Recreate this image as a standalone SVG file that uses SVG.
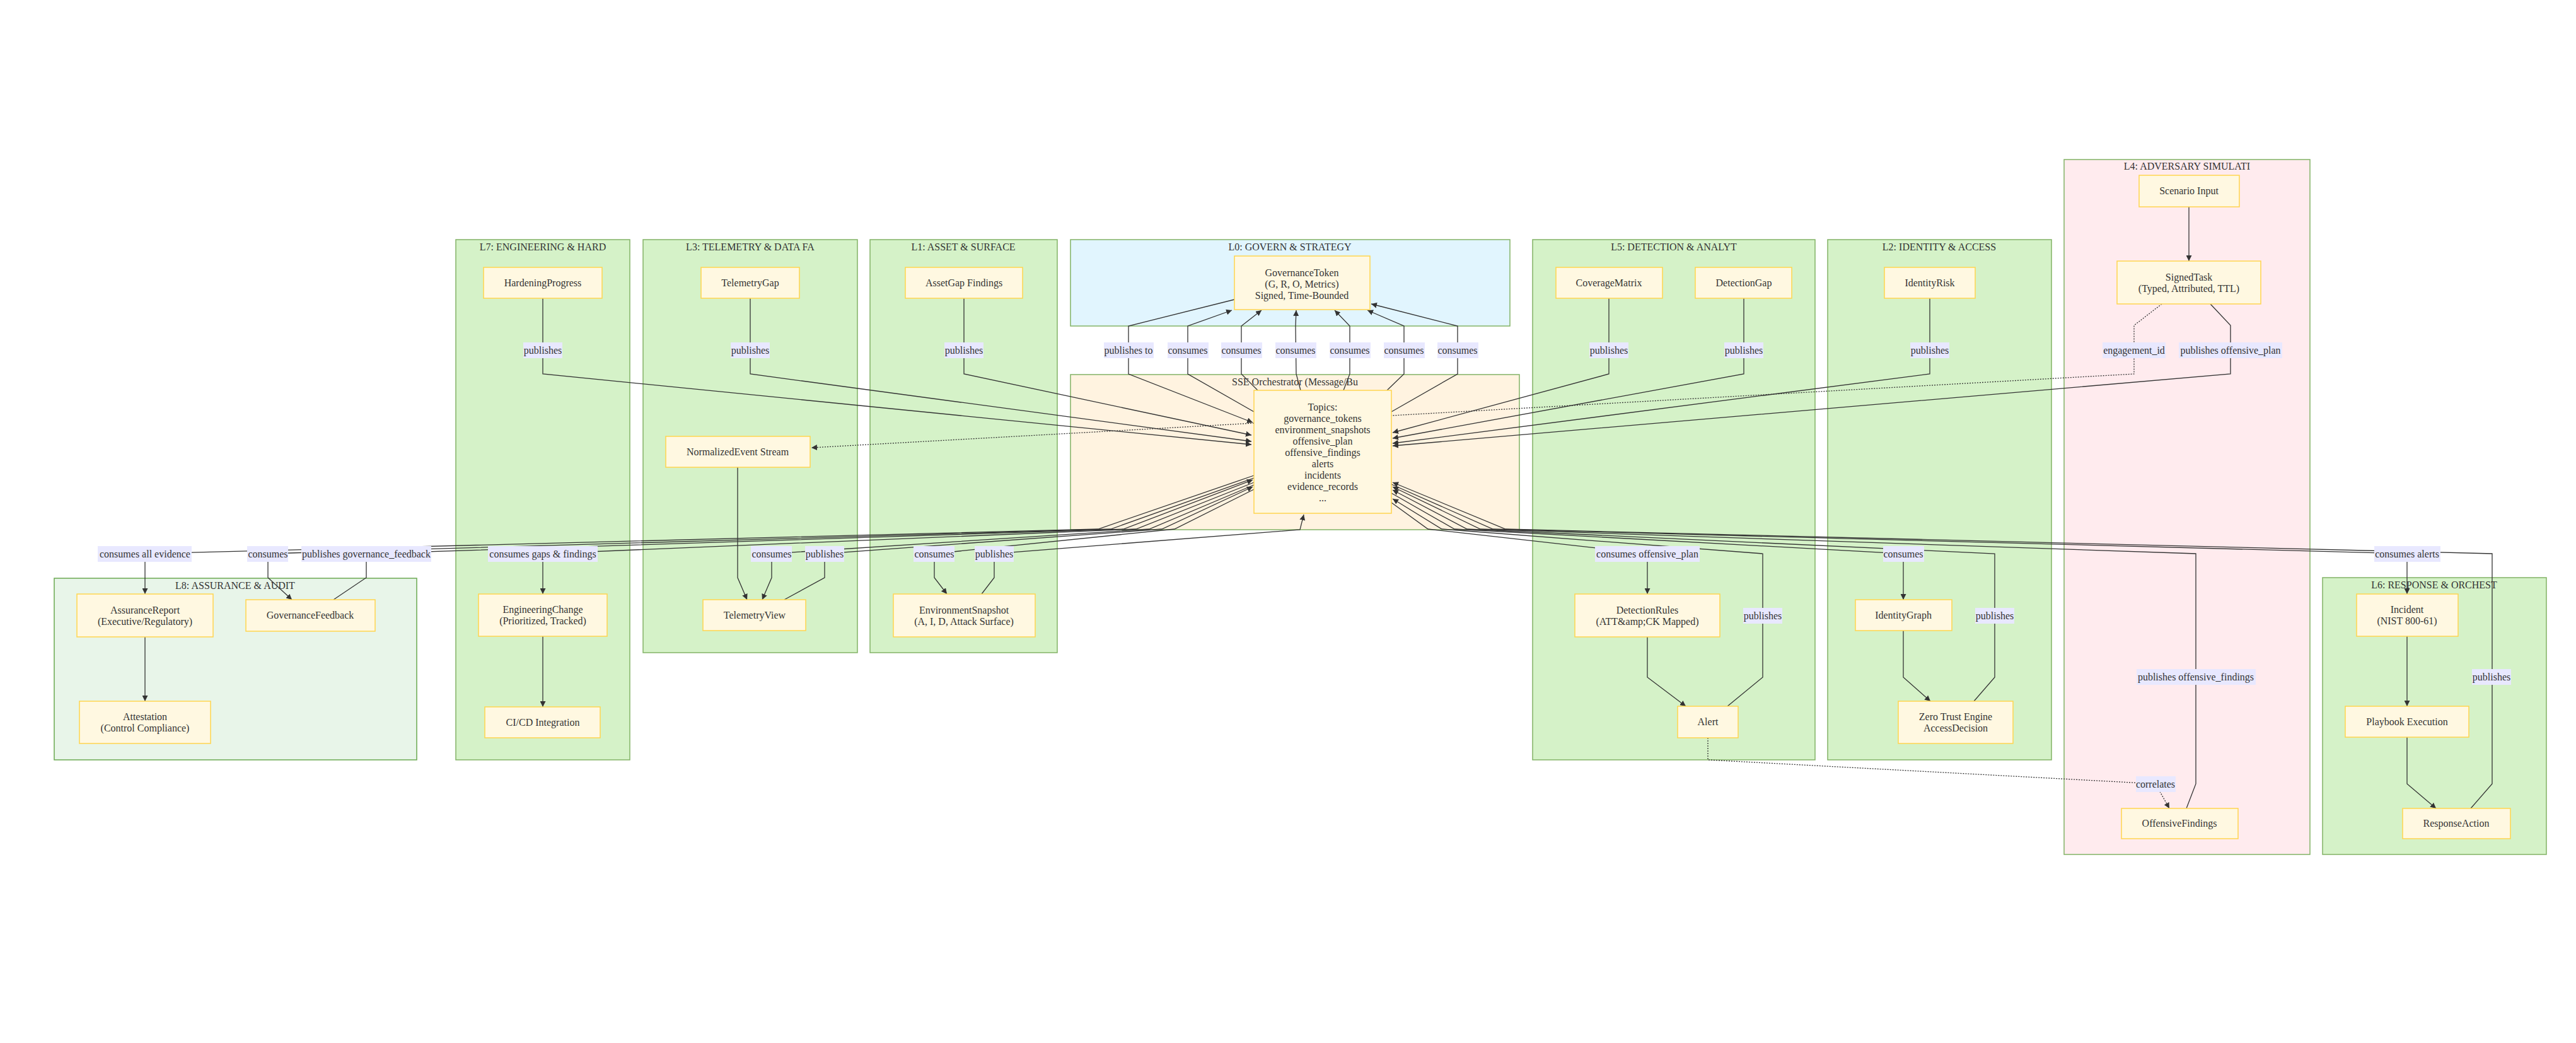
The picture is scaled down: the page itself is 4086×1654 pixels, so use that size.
<svg xmlns="http://www.w3.org/2000/svg" width="4086" height="1654" viewBox="0 0 4086 1654">
<style>
text{font-family:"Liberation Serif","Times New Roman",serif;font-size:16px;fill:#333;text-anchor:middle}
.cg{fill:#d5f2c8;stroke:#82b366;stroke-width:1.5}
.c8{fill:#e8f5e9;stroke:#6aa84f;stroke-width:1.5}
.c0{fill:#e1f5fe;stroke:#82b366;stroke-width:1.5}
.co{fill:#fff3e0;stroke:#82b366;stroke-width:1.5}
.c4{fill:#ffebee;stroke:#82b366;stroke-width:1.5}
.n rect{fill:#fff8e1;stroke:#ffd54f;stroke-width:1.5}
.e{fill:none;stroke:#333;stroke-width:1.3}
.d{stroke-dasharray:2 2}
.lb rect{fill:#e8e8ff}
</style>
<defs>
<marker id="ah" viewBox="0 0 10 10" refX="10" refY="5" markerWidth="9" markerHeight="9" markerUnits="userSpaceOnUse" orient="auto">
<path d="M0,0 L10,5 L0,10 z" fill="#333"/>
</marker>
</defs>
<g id="clusters">
<g id="L8"><rect class="c8" x="86" y="917" width="575" height="288"/><text x="373" y="934">L8: ASSURANCE &amp; AUDIT</text></g>
<g id="L7"><rect class="cg" x="723" y="380" width="276" height="825"/><text x="861" y="397">L7: ENGINEERING &amp; HARD</text></g>
<g id="L3"><rect class="cg" x="1020" y="380" width="340" height="655"/><text x="1190" y="397">L3: TELEMETRY &amp; DATA FA</text></g>
<g id="L1"><rect class="cg" x="1380" y="380" width="297" height="655"/><text x="1528" y="397">L1: ASSET &amp; SURFACE</text></g>
<g id="L0"><rect class="c0" x="1698" y="380" width="697" height="137"/><text x="2046" y="397">L0: GOVERN &amp; STRATEGY</text></g>
<g id="ORCH"><rect class="co" x="1698" y="594" width="712" height="246"/><text x="2054" y="611">SSE Orchestrator (Message/Bu</text></g>
<g id="L5"><rect class="cg" x="2431" y="380" width="448" height="825"/><text x="2655" y="397">L5: DETECTION &amp; ANALYT</text></g>
<g id="L2"><rect class="cg" x="2899" y="380" width="355" height="825"/><text x="3076" y="397">L2: IDENTITY &amp; ACCESS</text></g>
<g id="L4"><rect class="c4" x="3274" y="253" width="390" height="1102"/><text x="3469" y="269">L4: ADVERSARY SIMULATI</text></g>
<g id="L6"><rect class="cg" x="3684" y="916" width="355" height="439"/><text x="3861" y="933">L6: RESPONSE &amp; ORCHEST</text></g>
</g>
<g id="connectors">
<path class="e" d="M861,473 L861,593 L1985,705" marker-end="url(#ah)"/>
<path class="e" d="M1190,473 L1190,593 L1985,700" marker-end="url(#ah)"/>
<path class="e" d="M1529,473 L1529,593 L1985,690" marker-end="url(#ah)"/>
<path class="e d" d="M1989,671 L1287,710" marker-end="url(#ah)"/>
<path class="e" d="M1958,475 L1790,517 L1790,593 L1987,670" marker-end="url(#ah)"/>
<path class="e" d="M1989,653 L1884,593 L1884,517 L1954,492" marker-end="url(#ah)"/>
<path class="e" d="M1995,619 L1969,593 L1969,517 L2001,492" marker-end="url(#ah)"/>
<path class="e" d="M2063,619 L2056,593 L2055,517 L2056,492" marker-end="url(#ah)"/>
<path class="e" d="M2131,619 L2141,593 L2141,517 L2117,492" marker-end="url(#ah)"/>
<path class="e" d="M2200,619 L2227,593 L2227,517 L2169,492" marker-end="url(#ah)"/>
<path class="e" d="M2207,653 L2312,593 L2312,517 L2175,482" marker-end="url(#ah)"/>
<path class="e" d="M2552,473 L2552,593 L2209,686" marker-end="url(#ah)"/>
<path class="e" d="M2766,473 L2766,593 L2209,695" marker-end="url(#ah)"/>
<path class="e" d="M3061,473 L3061,593 L2209,703" marker-end="url(#ah)"/>
<path class="e" d="M3506,482 L3538,516 L3538,593 L2209,707" marker-end="url(#ah)"/>
<path class="e d" d="M3429,482 L3385,516 L3385,593 L2207,659"/>
<path class="e" d="M3472,328 L3472,414" marker-end="url(#ah)"/>
<path class="e" d="M1989,754 L1742,839 L230,878 L230,942" marker-end="url(#ah)"/>
<path class="e" d="M1989,758 L1762,839 L425,878 L425,916 L463,951" marker-end="url(#ah)"/>
<path class="e" d="M529,951 L581,916 L581,878 L1782,839 L1987,761" marker-end="url(#ah)"/>
<path class="e" d="M1989,765 L1802,839 L861,878 L861,942" marker-end="url(#ah)"/>
<path class="e" d="M1989,769 L1823,839 L1224,878 L1224,916 L1209,951" marker-end="url(#ah)"/>
<path class="e" d="M1244,951 L1308,916 L1308,878 L1843,839 L1987,772" marker-end="url(#ah)"/>
<path class="e" d="M1989,776 L1863,839 L1482,878 L1482,916 L1502,942" marker-end="url(#ah)"/>
<path class="e" d="M1557,942 L1577,916 L1577,878 L2062,840 L2068,816" marker-end="url(#ah)"/>
<path class="e" d="M1170,741 L1170,916 L1185,951" marker-end="url(#ah)"/>
<path class="e" d="M230,1010 L230,1112" marker-end="url(#ah)"/>
<path class="e" d="M861,1009 L861,1121" marker-end="url(#ah)"/>
<path class="e" d="M2207,797 L2265,839 L2613,878 L2613,942" marker-end="url(#ah)"/>
<path class="e" d="M2740,1120 L2796,1074 L2796,878 L2287,839 L2209,791" marker-end="url(#ah)"/>
<path class="e" d="M2207,782 L2307,839 L3019,878 L3019,951" marker-end="url(#ah)"/>
<path class="e" d="M3131,1112 L3164,1074 L3164,878 L2327,839 L2209,777" marker-end="url(#ah)"/>
<path class="e" d="M3468,1282 L3483,1243 L3483,878 L2348,839 L2209,772" marker-end="url(#ah)"/>
<path class="e" d="M2207,768 L2368,839 L3818,878 L3818,942" marker-end="url(#ah)"/>
<path class="e" d="M3919,1282 L3953,1243 L3953,878 L2388,839 L2209,765" marker-end="url(#ah)"/>
<path class="e" d="M2613,1010 L2613,1074 L2674,1120" marker-end="url(#ah)"/>
<path class="e" d="M3019,1000 L3019,1074 L3062,1112" marker-end="url(#ah)"/>
<path class="e d" d="M2709,1170 L2709,1205 L3419,1243 L3441,1282" marker-end="url(#ah)"/>
<path class="e" d="M3818,1009 L3818,1120" marker-end="url(#ah)"/>
<path class="e" d="M3818,1169 L3818,1243 L3864,1282" marker-end="url(#ah)"/>
</g>
<g id="edge-labels" class="lb">
<rect x="830" y="543" width="62" height="25"/><text x="861" y="561">publishes</text>
<rect x="1159" y="543" width="62" height="25"/><text x="1190" y="561">publishes</text>
<rect x="1498" y="543" width="62" height="25"/><text x="1529" y="561">publishes</text>
<rect x="1751" y="543" width="79" height="25"/><text x="1790" y="561">publishes to</text>
<rect x="1852" y="543" width="65" height="25"/><text x="1884" y="561">consumes</text>
<rect x="1937" y="543" width="65" height="25"/><text x="1969" y="561">consumes</text>
<rect x="2023" y="543" width="65" height="25"/><text x="2055" y="561">consumes</text>
<rect x="2109" y="543" width="65" height="25"/><text x="2141" y="561">consumes</text>
<rect x="2195" y="543" width="65" height="25"/><text x="2227" y="561">consumes</text>
<rect x="2280" y="543" width="65" height="25"/><text x="2312" y="561">consumes</text>
<rect x="2521" y="543" width="62" height="25"/><text x="2552" y="561">publishes</text>
<rect x="2735" y="543" width="62" height="25"/><text x="2766" y="561">publishes</text>
<rect x="3030" y="543" width="62" height="25"/><text x="3061" y="561">publishes</text>
<rect x="3335" y="543" width="100" height="25"/><text x="3385" y="561">engagement_id</text>
<rect x="3456" y="543" width="164" height="25"/><text x="3538" y="561">publishes offensive_plan</text>
<rect x="155" y="866" width="149" height="25"/><text x="230" y="884">consumes all evidence</text>
<rect x="392" y="866" width="65" height="25"/><text x="425" y="884">consumes</text>
<rect x="478" y="866" width="206" height="25"/><text x="581" y="884">publishes governance_feedback</text>
<rect x="774" y="866" width="174" height="25"/><text x="861" y="884">consumes gaps &amp; findings</text>
<rect x="1191" y="866" width="65" height="25"/><text x="1224" y="884">consumes</text>
<rect x="1277" y="866" width="62" height="25"/><text x="1308" y="884">publishes</text>
<rect x="1449" y="866" width="65" height="25"/><text x="1482" y="884">consumes</text>
<rect x="1546" y="866" width="62" height="25"/><text x="1577" y="884">publishes</text>
<rect x="2530" y="866" width="166" height="25"/><text x="2613" y="884">consumes offensive_plan</text>
<rect x="2765" y="964" width="62" height="25"/><text x="2796" y="982">publishes</text>
<rect x="2987" y="866" width="65" height="25"/><text x="3019" y="884">consumes</text>
<rect x="3133" y="964" width="62" height="25"/><text x="3164" y="982">publishes</text>
<rect x="3389" y="1061" width="189" height="25"/><text x="3483" y="1079">publishes offensive_findings</text>
<rect x="3766" y="866" width="105" height="25"/><text x="3818" y="884">consumes alerts</text>
<rect x="3921" y="1061" width="62" height="25"/><text x="3952" y="1079">publishes</text>
<rect x="3388" y="1231" width="63" height="25"/><text x="3419" y="1249">correlates</text>
</g>
<g id="nodes">
<g id="HardeningProgress" class="n"><rect x="767" y="424" width="188" height="49"/><text x="861" y="454">HardeningProgress</text></g>
<g id="TelemetryGap" class="n"><rect x="1112" y="424" width="156" height="49"/><text x="1190" y="454">TelemetryGap</text></g>
<g id="AssetGap" class="n"><rect x="1436" y="424" width="186" height="49"/><text x="1529" y="454">AssetGap Findings</text></g>
<g id="GovernanceToken" class="n"><rect x="1958" y="406" width="215" height="85"/><text x="2065" y="438">GovernanceToken</text><text x="2065" y="456">(G, R, O, Metrics)</text><text x="2065" y="474">Signed, Time-Bounded</text></g>
<g id="CoverageMatrix" class="n"><rect x="2468" y="424" width="169" height="49"/><text x="2552" y="454">CoverageMatrix</text></g>
<g id="DetectionGap" class="n"><rect x="2689" y="424" width="153" height="49"/><text x="2766" y="454">DetectionGap</text></g>
<g id="IdentityRisk" class="n"><rect x="2989" y="424" width="144" height="49"/><text x="3061" y="454">IdentityRisk</text></g>
<g id="ScenarioInput" class="n"><rect x="3393" y="278" width="159" height="50"/><text x="3472" y="308">Scenario Input</text></g>
<g id="SignedTask" class="n"><rect x="3358" y="414" width="228" height="68"/><text x="3472" y="445">SignedTask</text><text x="3472" y="463">(Typed, Attributed, TTL)</text></g>
<g id="NormalizedEvent" class="n"><rect x="1056" y="692" width="229" height="49"/><text x="1170" y="722">NormalizedEvent Stream</text></g>
<g id="Topics" class="n"><rect x="1989" y="619" width="218" height="195"/><text x="2098" y="651">Topics:</text><text x="2098" y="669">governance_tokens</text><text x="2098" y="687">environment_snapshots</text><text x="2098" y="705">offensive_plan</text><text x="2098" y="723">offensive_findings</text><text x="2098" y="741">alerts</text><text x="2098" y="759">incidents</text><text x="2098" y="777">evidence_records</text><text x="2098" y="795">...</text></g>
<g id="AssuranceReport" class="n"><rect x="122" y="942" width="216" height="68"/><text x="230" y="973">AssuranceReport</text><text x="230" y="991">(Executive/Regulatory)</text></g>
<g id="GovernanceFeedback" class="n"><rect x="390" y="951" width="205" height="50"/><text x="492" y="981">GovernanceFeedback</text></g>
<g id="Attestation" class="n"><rect x="126" y="1112" width="208" height="67"/><text x="230" y="1142">Attestation</text><text x="230" y="1160">(Control Compliance)</text></g>
<g id="EngineeringChange" class="n"><rect x="759" y="942" width="204" height="67"/><text x="861" y="972">EngineeringChange</text><text x="861" y="990">(Prioritized, Tracked)</text></g>
<g id="CICD" class="n"><rect x="769" y="1121" width="183" height="49"/><text x="861" y="1151">CI/CD Integration</text></g>
<g id="TelemetryView" class="n"><rect x="1115" y="951" width="163" height="49"/><text x="1197" y="981">TelemetryView</text></g>
<g id="EnvironmentSnapshot" class="n"><rect x="1417" y="942" width="225" height="68"/><text x="1529" y="973">EnvironmentSnapshot</text><text x="1529" y="991">(A, I, D, Attack Surface)</text></g>
<g id="DetectionRules" class="n"><rect x="2498" y="942" width="230" height="68"/><text x="2613" y="973">DetectionRules</text><text x="2613" y="991">(ATT&amp;amp;CK Mapped)</text></g>
<g id="Alert" class="n"><rect x="2661" y="1120" width="96" height="50"/><text x="2709" y="1150">Alert</text></g>
<g id="IdentityGraph" class="n"><rect x="2943" y="951" width="153" height="49"/><text x="3019" y="981">IdentityGraph</text></g>
<g id="ZeroTrust" class="n"><rect x="3011" y="1112" width="182" height="67"/><text x="3102" y="1142">Zero Trust Engine</text><text x="3102" y="1160">AccessDecision</text></g>
<g id="OffensiveFindings" class="n"><rect x="3365" y="1282" width="185" height="48"/><text x="3457" y="1311">OffensiveFindings</text></g>
<g id="Incident" class="n"><rect x="3738" y="942" width="161" height="67"/><text x="3818" y="972">Incident</text><text x="3818" y="990">(NIST 800-61)</text></g>
<g id="Playbook" class="n"><rect x="3720" y="1120" width="196" height="49"/><text x="3818" y="1150">Playbook Execution</text></g>
<g id="ResponseAction" class="n"><rect x="3811" y="1282" width="171" height="48"/><text x="3896" y="1311">ResponseAction</text></g>
</g>
</svg>
